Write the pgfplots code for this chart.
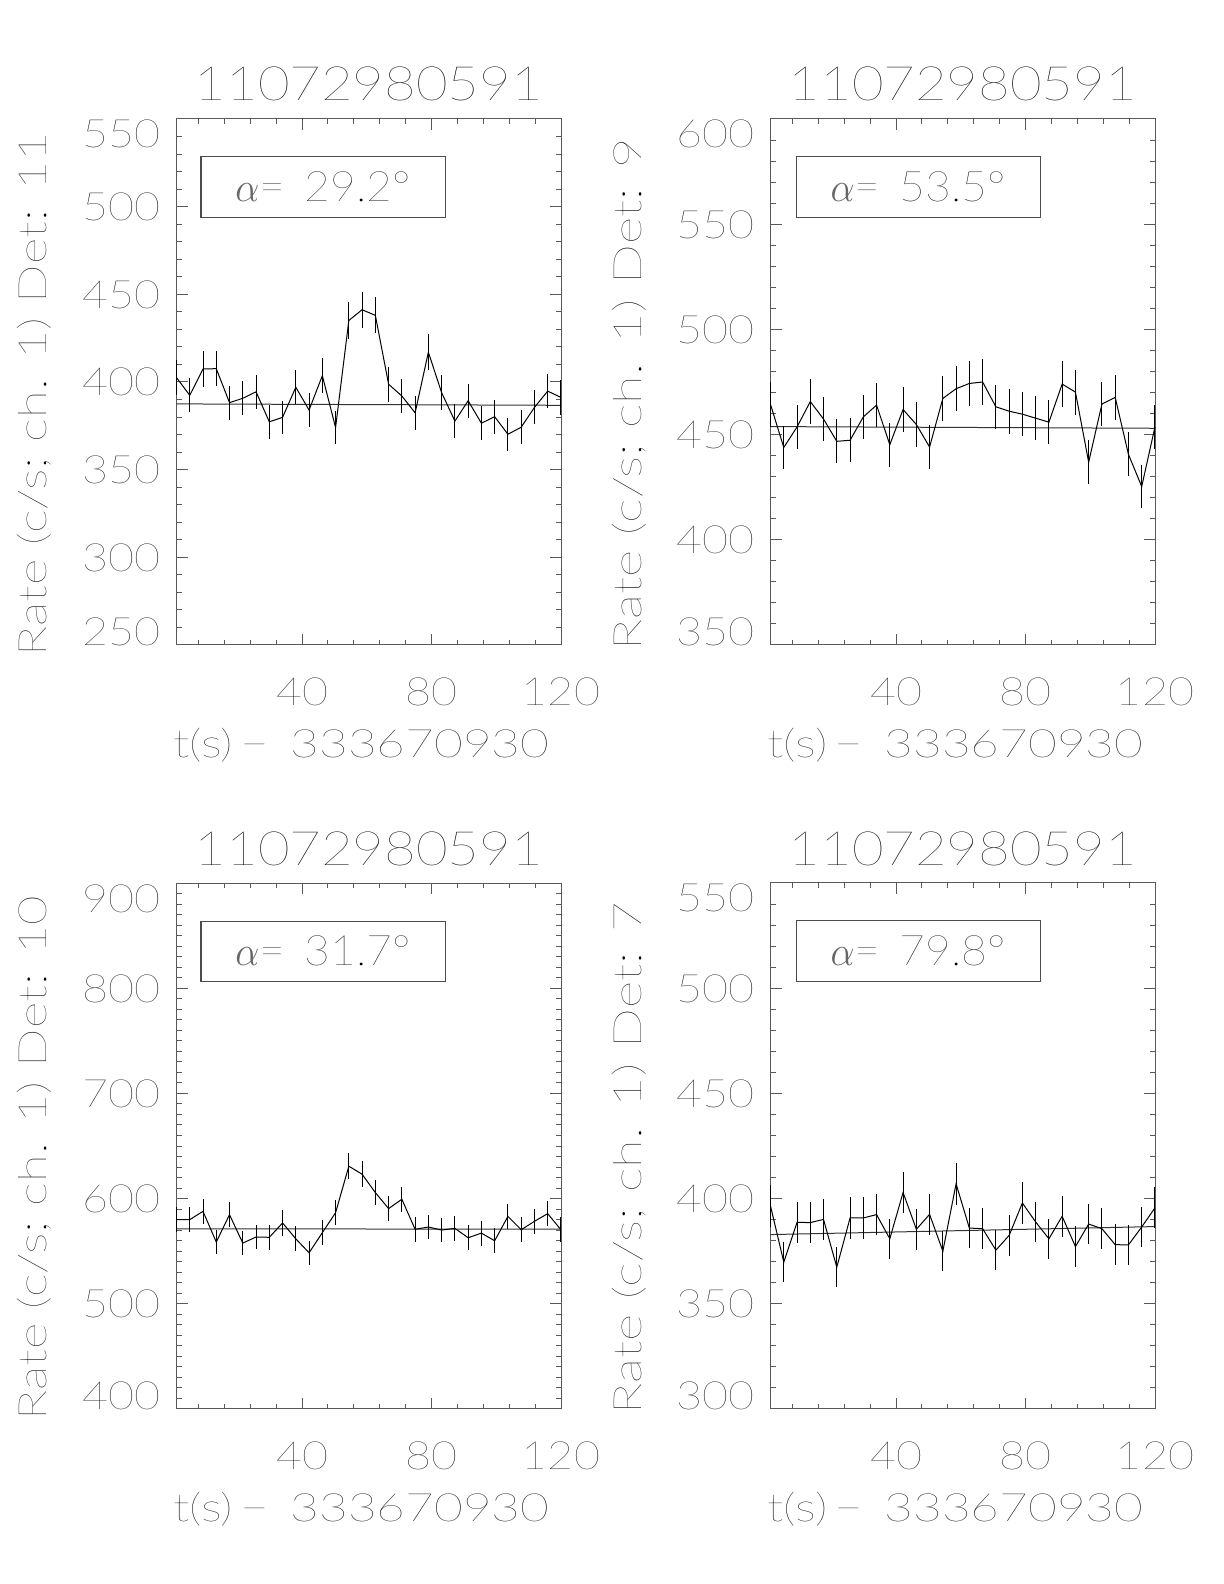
\documentclass[border=0pt]{standalone}
\usepackage{fontspec}
\IfFontExistsTF{Lato Thin}{\setmainfont{Lato Thin}[FakeStretch=1.15]}{\IfFontExistsTF{Lato Light}{\setmainfont{Lato Light}[FakeStretch=1.15]}{\setmainfont{Liberation Sans}[FakeStretch=1.15]}}
\usepackage{graphicx}
\usepackage{pgfplots}
\usepackage{pgfplotstable}
\pgfplotsset{compat=1.18}

\pgfplotstableread{
x y e
1.20 402.5 9.9
5.30 392.4 9.8
9.39 407.4 10.0
13.49 407.6 10.0
17.58 388.2 9.7
21.68 390.7 9.8
25.78 394.4 9.8
29.87 377.3 9.6
33.97 379.8 9.6
38.06 397.0 9.8
42.16 384.0 9.7
46.26 403.6 9.9
50.35 374.0 9.6
54.45 435.1 10.3
58.54 441.2 10.4
62.64 438.0 10.3
66.74 398.7 9.9
70.83 392.0 9.8
74.93 382.4 9.7
79.02 417.0 10.1
83.12 393.9 9.8
87.22 377.7 9.6
91.31 389.3 9.8
95.41 376.5 9.6
99.50 380.2 9.6
103.60 370.2 9.5
107.70 374.2 9.6
111.79 385.5 9.7
115.89 394.8 9.8
119.98 391.2 9.8
}\dA
\pgfplotstableread{
x y e
1.20 464.3 10.6
5.30 443.9 10.4
9.39 453.6 10.5
13.49 465.7 10.7
17.58 457.4 10.6
21.68 446.8 10.4
25.78 447.3 10.4
29.87 458.4 10.6
33.97 464.0 10.6
38.06 445.2 10.4
42.16 461.9 10.6
46.26 454.8 10.5
50.35 444.1 10.4
54.45 467.2 10.7
58.54 471.8 10.7
62.64 474.3 10.8
66.74 475.0 10.8
70.83 463.2 10.6
74.93 461.1 10.6
79.02 459.7 10.6
83.12 457.8 10.6
87.22 455.9 10.5
91.31 474.0 10.8
95.41 470.2 10.7
99.50 436.9 10.3
103.60 464.5 10.6
107.70 467.7 10.7
111.79 440.6 10.4
115.89 425.3 10.2
119.98 453.6 10.5
}\dB
\pgfplotstableread{
x y e
1.20 580.0 11.9
5.30 580.0 11.9
9.39 587.9 12.0
13.49 558.7 11.7
17.58 584.7 11.9
21.68 557.7 11.7
25.78 563.5 11.7
29.87 563.2 11.7
33.97 576.8 11.9
38.06 561.8 11.7
42.16 548.5 11.6
46.26 567.6 11.8
50.35 586.6 12.0
54.45 630.8 12.4
58.54 623.2 12.3
62.64 605.7 12.2
66.74 590.5 12.0
70.83 599.4 12.1
74.93 570.8 11.8
79.02 573.0 11.8
83.12 570.1 11.8
87.22 571.7 11.8
91.31 562.8 11.7
95.41 567.2 11.8
99.50 559.9 11.7
103.60 583.1 11.9
107.70 570.4 11.8
111.79 578.4 11.9
115.89 585.7 12.0
119.98 570.4 11.8
}\dC
\pgfplotstableread{
x y e
1.20 396.5 9.8
5.30 369.8 9.5
9.39 388.7 9.7
13.49 388.6 9.7
17.58 390.1 9.8
21.68 367.4 9.5
25.78 390.8 9.8
29.87 390.8 9.8
33.97 392.4 9.8
38.06 380.9 9.6
42.16 402.9 9.9
46.26 385.4 9.7
50.35 392.5 9.8
54.45 375.0 9.6
58.54 407.0 10.0
62.64 386.0 9.7
66.74 385.7 9.7
70.83 375.5 9.6
74.93 382.5 9.7
79.02 397.9 9.9
83.12 388.9 9.7
87.22 380.9 9.6
91.31 391.6 9.8
95.41 377.2 9.6
99.50 387.9 9.7
103.60 385.7 9.7
107.70 378.1 9.6
111.79 378.0 9.6
115.89 386.5 9.7
119.98 395.6 9.8
}\dD

\pgfplotsset{
  rp/.style={
    width=192.25pt, height=263pt, scale only axis,
    xmin=1.2, xmax=120,
    xtick={40,80,120},
    minor xtick={8,16,24,32,48,56,64,72,88,96,104,112},
    xtick pos=both, ytick pos=both,
    tick align=inside,
    major tick length=5.5pt, minor tick length=2.5pt,
    axis line style={black!65, line width=0.5pt},
    every tick/.style={black!65, line width=0.5pt},
    /pgf/number format/assume math mode=true,
    every tick label/.append style={font=\fontsize{19.5}{20}\selectfont, text=black},
    xticklabel style={anchor=base, inner sep=0pt, yshift=-30.5pt},
    yticklabel style={anchor=base east, inner sep=0pt, xshift=-8pt, yshift=-7pt},
    label style={font=\fontsize{19.5}{20}\selectfont, text=black, inner sep=0pt},
    xlabel={\resizebox{188pt}{\height}{t(s)\,−\ \,333670930}},
    xlabel style={at={(axis description cs:0.481,-0.2144)}, anchor=base},
    title={\resizebox{174pt}{\height}{\fontsize{23.7}{24}\selectfont 11072980591}},
    title style={at={(axis description cs:0.5,1.0114)}, anchor=base, inner sep=0pt, text=black},
    ylabel style={at={(axis description cs:-0.3368,0.477)}, anchor=base},
    clip=false,
  },
  dat/.style={black, line width=0.5pt, mark=none,
    error bars/.cd, y dir=both, y explicit, error mark=none,
    error bar style={line width=0.5pt, black}},
  fit/.style={black!80, line width=0.5pt, mark=none},
}
\tikzset{
  abox/.style={draw=black!70, line width=0.5pt, anchor=north west,
    minimum width=122pt, minimum height=30.25pt, inner sep=0pt,
    font=\fontsize{21}{21}\selectfont, text=black},
}
\newcommand{\alab}[1]{\resizebox{87.5pt}{\height}{\textcolor{black!60}{$\alpha$}=\hspace{0.5em}#1°}}

\begin{document}
\begin{tikzpicture}
\useasboundingbox (0,0) rectangle (612pt,792pt);

% Panel 1
\begin{axis}[rp, at={(88.25pt,469.5pt)}, anchor=south west,
  ymin=250, ymax=550, ytick={250,300,350,400,450,500,550}, minor y tick num=4,
  yticklabels={\raisebox{6.5pt}{250},300,350,400,450,500,\raisebox{-7.5pt}{550}},
  ylabel={\resizebox{262pt}{\height}{Rate (c/s; ch. 1) Det: 11}}]
\addplot[fit] coordinates {(1.2,387.5) (120,386.7)};
\addplot[dat] table[x=x, y=y, y error=e] {\dA};
\node[abox] at ([xshift=12pt,yshift=-18.75pt]rel axis cs:0,1) {\alab{29.2}};
\end{axis}

% Panel 2
\begin{axis}[rp, at={(385.25pt,469.5pt)}, anchor=south west,
  ymin=350, ymax=600, ytick={350,400,450,500,550,600}, minor y tick num=4,
  yticklabels={\raisebox{6.5pt}{350},400,450,500,550,\raisebox{-7.5pt}{600}},
  ylabel={\resizebox{256pt}{\height}{Rate (c/s; ch. 1) Det: 9}}]
\addplot[fit] coordinates {(1.2,453.8) (120,453.0)};
\addplot[dat] table[x=x, y=y, y error=e] {\dB};
\node[abox] at ([xshift=12.5pt,yshift=-18.75pt]rel axis cs:0,1) {\alab{53.5}};
\end{axis}

% Panel 3
\begin{axis}[rp, at={(88.25pt,87.5pt)}, anchor=south west,
  ymin=400, ymax=900, ytick={400,500,600,700,800,900}, minor y tick num=9,
  yticklabels={\raisebox{6.5pt}{400},500,600,700,800,\raisebox{-7.5pt}{900}},
  ylabel={\resizebox{262pt}{\height}{Rate (c/s; ch. 1) Det: 10}}]
\addplot[fit] coordinates {(1.2,571.3) (120,570.9)};
\addplot[dat] table[x=x, y=y, y error=e] {\dC};
\node[abox] at ([xshift=12pt,yshift=-18.75pt]rel axis cs:0,1) {\alab{31.7}};
\end{axis}

% Panel 4
\begin{axis}[rp, at={(385.25pt,87.5pt)}, anchor=south west,
  ymin=300, ymax=550, ytick={300,350,400,450,500,550}, minor y tick num=4,
  yticklabels={\raisebox{6.5pt}{300},350,400,450,500,\raisebox{-7.5pt}{550}},
  ylabel={\resizebox{256pt}{\height}{Rate (c/s; ch. 1) Det: 7}}]
\addplot[fit] coordinates {(1.2,382.9) (120,386.7)};
\addplot[dat] table[x=x, y=y, y error=e] {\dD};
\node[abox] at ([xshift=12.5pt,yshift=-18.75pt]rel axis cs:0,1) {\alab{79.8}};
\end{axis}
\end{tikzpicture}
\end{document}
